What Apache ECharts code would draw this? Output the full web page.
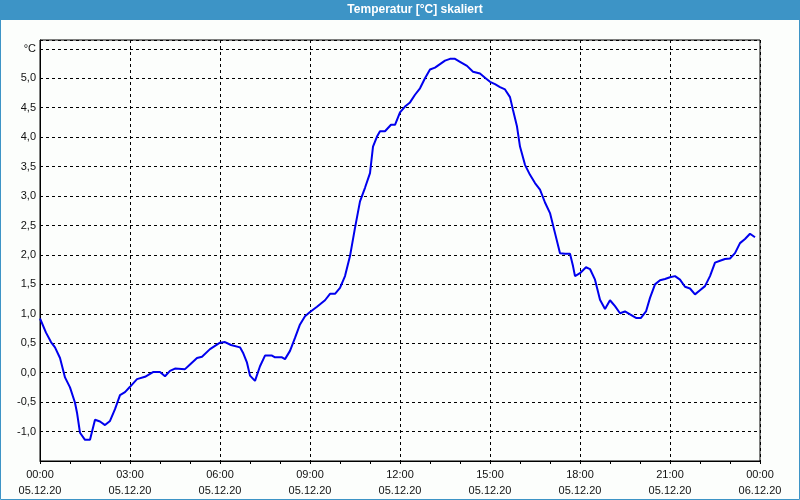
<!DOCTYPE html>
<html>
<head>
<meta charset="utf-8">
<script src="https://cdn.jsdelivr.net/npm/echarts@6/dist/echarts.min.js"></script>
<style>
html,body{margin:0;padding:0;background:#fcfefc;}
#c{width:800px;height:500px;}
</style>
</head>
<body>
<div id="c"></div>
<script>
// Title
var chartTitle = 'Temperatur [°C] skaliert';
// Time of each sample, minutes after 05.12.20 00:00
var minutes = [0,12,22,30,40,50,60,70,74,80,90,100,110,120,130,140,150,160,170,180,194,210,226,240,250,260,270,290,300,314,324,340,360,370,382,400,406,414,420,430,440,450,464,470,484,490,500,510,520,530,540,554,570,580,590,600,610,620,630,640,650,660,666,674,680,690,702,710,720,730,740,750,760,770,780,790,800,810,820,830,840,854,866,880,890,900,910,920,930,940,946,954,960,970,980,990,1000,1010,1020,1030,1040,1050,1060,1066,1070,1080,1092,1100,1110,1120,1130,1140,1150,1160,1170,1180,1192,1202,1212,1220,1230,1240,1250,1260,1270,1280,1290,1300,1310,1320,1330,1340,1350,1360,1370,1380,1390,1400,1410,1420,1430];
// Temperature (°C)
var temps = [0.92,0.68,0.52,0.43,0.25,-0.08,-0.25,-0.51,-0.68,-1.02,-1.14,-1.14,-0.80,-0.83,-0.89,-0.82,-0.62,-0.38,-0.33,-0.24,-0.11,-0.07,0.01,0.01,-0.06,0.03,0.07,0.06,0.14,0.25,0.27,0.40,0.51,0.52,0.47,0.43,0.34,0.17,-0.05,-0.14,0.11,0.29,0.29,0.26,0.26,0.23,0.37,0.59,0.82,0.96,1.03,1.12,1.23,1.34,1.34,1.44,1.64,1.98,2.46,2.91,3.14,3.39,3.84,4.01,4.10,4.10,4.21,4.21,4.42,4.52,4.59,4.72,4.83,5.00,5.15,5.18,5.24,5.30,5.33,5.33,5.28,5.21,5.11,5.08,5.01,4.94,4.90,4.85,4.81,4.68,4.46,4.18,3.84,3.53,3.36,3.22,3.11,2.89,2.71,2.37,2.03,2.02,2.02,1.81,1.64,1.69,1.79,1.76,1.58,1.24,1.08,1.23,1.13,1.01,1.04,0.99,0.93,0.93,1.04,1.27,1.50,1.57,1.59,1.62,1.64,1.58,1.46,1.43,1.33,1.40,1.47,1.64,1.87,1.90,1.93,1.94,2.03,2.20,2.27,2.36,2.30];
// Axis label pieces
var startDate = '05.12.20';
var endDate = '06.12.20';
var unitLabel = '°C';

var chart = echarts.init(document.getElementById('c'), null, {renderer:'canvas'});
var n = Math.min(minutes.length, temps.length);
var pts = [];
for (var i = 0; i < n; i++) pts.push([minutes[i], temps[i]]);
var labelFont = 'Liberation Sans';

chart.setOption({
  backgroundColor: '#fcfefc',
  animation: false,
  graphic: [
    {type:'rect', shape:{x:0,y:0,width:800,height:20}, style:{fill:'#3d94c6'}, z:0},
    {type:'rect', shape:{x:0.5,y:0.5,width:799,height:499}, style:{fill:null, stroke:'#3d94c6', lineWidth:1}, z:0},
    {type:'text', x:415, y:10, style:{text:chartTitle, fill:'#ffffff', font:'bold 12px "Liberation Sans"', textAlign:'center', textVerticalAlign:'middle'}, z:1}
  ],
  grid: {left:40, right:40, top:40, bottom:39, show:true, borderColor:'#000', borderWidth:1, backgroundColor:'transparent'},
  xAxis: {
    type:'value', min:0, max:1440, interval:180,
    axisLine:{show:true, onZero:false, lineStyle:{color:'#000', width:1}},
    axisTick:{show:true, length:3, lineStyle:{color:'#000'}},
    minorTick:{show:true, splitNumber:3, length:3, lineStyle:{color:'#000'}},
    splitLine:{show:true, lineStyle:{color:'#000', type:[3,3], width:1}},
    axisLabel:{
      showMinLabel:true, showMaxLabel:true, margin:6,
      color:'#111', fontFamily:labelFont, fontSize:11, lineHeight:16,
      formatter:function(v){
        var h = Math.floor(v/60)%24, m = v%60;
        var t = (h<10?'0':'')+h+':'+(m<10?'0':'')+m;
        return t+'\n'+(v>=1440?endDate:startDate);
      }
    }
  },
  yAxis: {
    type:'value', min:-1.5, max:5.65, interval:0.5,
    axisLine:{show:true, onZero:false, lineStyle:{color:'#000', width:1}},
    axisTick:{show:false},
    splitLine:{show:true, lineStyle:{color:'#000', type:[3,3], width:1}},
    axisLabel:{
      showMinLabel:false, showMaxLabel:false, margin:4,
      color:'#111', fontFamily:labelFont, fontSize:11,
      formatter:function(v){
        if (Math.abs(v-5.5)<1e-6) return unitLabel;
        if (Math.abs(v*2-Math.round(v*2))>1e-6 || v<-1.4) return '';
        return v.toFixed(1).replace('.',',');
      }
    }
  },
  series: [{
    type:'line', data:pts, showSymbol:false, symbol:'none',
    lineStyle:{color:'#0000ee', width:2}, z:5
  }]
});
</script>
</body>
</html>
